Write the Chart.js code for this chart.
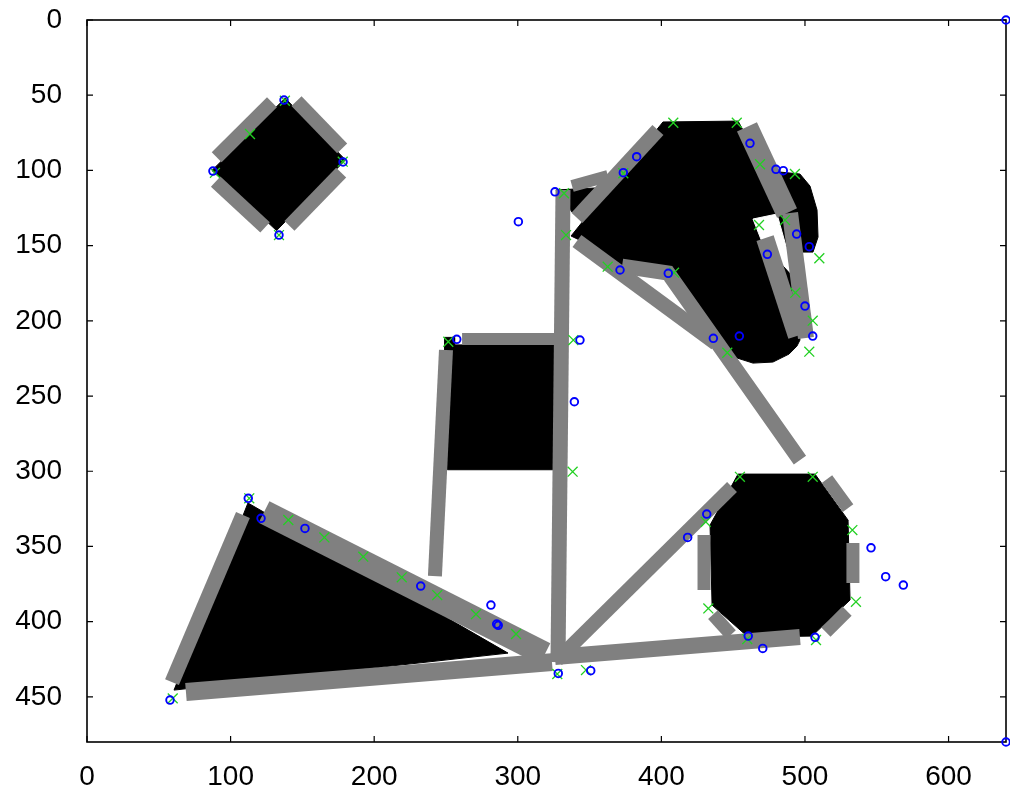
<!DOCTYPE html>
<html>
<head>
<meta charset="utf-8">
<script src="https://cdn.jsdelivr.net/npm/chart.js@4.4.0/dist/chart.umd.min.js"></script>
<style>
  html, body { margin: 0; padding: 0; background: #fff; }
</style>
</head>
<body>
<canvas id="chartShapes" width="1010" height="795"></canvas>
<script>
// axis ticks
const xTicks = [0, 100, 200, 300, 400, 500, 600];
const yTicks = [0, 50, 100, 150, 200, 250, 300, 350, 400, 450];

// black regions (x, y in image coordinates)
const diamond = [[138, 52], [180, 93], [132, 140], [87, 100]];
const square = [[249, 211], [256, 211], [256, 216], [328, 216], [328, 299], [251, 299], [251, 220], [249, 220]];
const triangle = [[112.1, 321.1], [293.2, 420.9], [60.6, 445.5]];
const notch = [[326.6, 113.0], [353.8, 111.7], [337.8, 127.7]];
const blob = [[337.1, 143.6], [401.1, 67.8], [453.4, 67.2], [489.6, 129.7], [496.5, 212.8], [494.4, 216.8],
    [488.9, 222.1], [477.7, 227.4], [463.8, 228.1], [452.7, 224.7], [445.7, 219.4], [404.6, 167.6],
    [372.6, 162.9], [350.3, 149.6]];
const crescent = [[482.6, 101.1], [496.5, 102.4], [503.5, 110.4], [508.4, 126.3], [509.1, 144.3],
    [505.6, 154.3], [495.1, 154.3], [488.2, 129.7]];
const octagon = [[453.4, 301.9], [507.0, 301.9], [530.0, 332.5], [531.4, 385.6], [504.9, 409.6],
    [460.3, 410.2], [435.3, 389.0], [433.9, 335.8]];

// white hole inside the blob
const hole = [[463.8, 132.3], [480.5, 129.0], [493.1, 171.5], [470.1, 147.6]];

// gray strokes
const dUL = [[90.3, 91.2], [128.8, 54.7]];
const dUR = [[145.9, 54.0], [177.7, 85.4]];
const dLR = [[177.0, 101.5], [141.0, 136.8]];
const dLL = [[124.0, 137.8], [89.6, 107.4]];
const sqTop = [[261.2, 212.1], [327.3, 212.1]];
const sqLeft = [[250.0, 219.4], [242.3, 369.7]];
const pole = [[331.5, 113.0], [328.0, 426.9]];
const wing = [[337.8, 110.4], [362.8, 103.7]];
const blobEdge = [[341.2, 131.6], [397.6, 73.1]];
const upperRight = [[459.6, 71.1], [487.5, 128.3]];
const rightOuter = [[489.6, 128.3], [500.7, 211.4]];
const rightInner = [[472.2, 145.0], [494.4, 210.1]];
const lowerTip = [[341.2, 146.9], [438.0, 214.8]];
const slant = [[372.6, 163.6], [404.6, 168.2], [496.5, 292.6]];
const triTop = [[123.3, 327.1], [318.9, 421.5]];
const triLeft = [[108.6, 329.1], [59.2, 440.2]];
const triBottom = [[68.9, 446.8], [323.8, 426.9]];
const spoke = [[327.3, 425.5], [449.2, 310.5]];
const base = [[325.9, 423.5], [496.5, 410.2]];
const octUR = [[515.3, 305.2], [530.0, 324.5]];
const octR = [[533.4, 347.7], [533.4, 374.3]];
const octLR = [[529.3, 393.0], [514.6, 406.9]];
const octLL = [[435.9, 395.3], [448.5, 408.6]];
const octL = [[429.7, 342.4], [429.7, 379.0]];

// markers
const blueCircles = [[640, 0], [640, 480],
    [137.2, 53.2], [87.7, 100.4], [178.3, 94.4], [133.7, 143.0],
    [300.4, 134.1], [325.9, 114.2], [382.8, 90.9], [373.5, 101.5], [371.2, 166.2], [404.8, 168.4],
    [343.3, 212.8], [436.2, 211.6], [339.4, 253.8], [257.5, 212.3],
    [461.7, 82.0], [479.8, 99.3], [484.9, 100.2], [494.2, 142.3], [503.0, 150.7], [473.8, 155.8],
    [500.0, 190.2], [505.4, 210.1], [454.3, 210.1],
    [431.6, 328.5], [418.3, 344.0], [546.0, 350.9], [556.2, 370.1], [568.5, 375.7], [460.5, 409.6],
    [470.6, 417.8], [507.0, 410.4],
    [112.3, 318.0], [121.2, 331.3], [151.8, 338.0], [232.4, 376.3], [281.3, 389.0], [285.3, 401.6],
    [286.4, 402.4], [57.8, 452.1], [328.2, 434.4], [350.8, 432.6]];
const greenCrosses = [[137.8, 53.7], [89.1, 101.6], [178.1, 94.2], [133.7, 143.0], [113.5, 75.8],
    [332.2, 115.2], [333.6, 143.0], [373.5, 101.9], [408.3, 68.3], [362.6, 164.0], [408.8, 168.0],
    [338.7, 212.8], [338.2, 300.3], [251.6, 213.9],
    [452.5, 68.3], [468.7, 95.9], [493.0, 102.4], [468.0, 136.3], [486.1, 133.0], [510.0, 158.4],
    [493.3, 181.3], [505.4, 199.9], [503.0, 220.5], [445.9, 221.2],
    [454.7, 303.7], [505.4, 303.7], [533.0, 339.1], [535.5, 386.8], [430.9, 333.6], [432.7, 391.2],
    [459.8, 411.6], [507.7, 412.2],
    [113.0, 318.0], [140.2, 332.4], [165.3, 344.0], [192.4, 356.8], [219.2, 370.5], [243.9, 382.3],
    [270.9, 395.0], [298.8, 408.2], [59.7, 451.0], [327.5, 434.8], [347.5, 432.2]];

const GRAY = '#808080';
const FONT = { family: "'Liberation Sans', Arial, sans-serif", size: 28 };

function toXY(points) {
    return points.map(p => ({ x: p[0], y: p[1] }));
}

function area(points, color, order) {
    return {
        data: toXY(points.concat([points[0]])),
        showLine: true,
        fill: 'shape',
        backgroundColor: color,
        borderColor: color,
        borderWidth: 1,
        pointRadius: 0,
        tension: 0,
        order: order
    };
}

function stroke(points, width) {
    return {
        data: toXY(points),
        showLine: true,
        fill: false,
        borderColor: GRAY,
        borderWidth: width,
        borderCapStyle: 'butt',
        borderJoinStyle: 'miter',
        pointRadius: 0,
        tension: 0,
        order: 1
    };
}

const datasets = [
    area(diamond, '#000', 3),
    area(square, '#000', 3),
    area(triangle, '#000', 3),
    area(notch, '#000', 3),
    area(blob, '#000', 3),
    area(crescent, '#000', 3),
    area(octagon, '#000', 3),
    area(hole, '#fff', 2),
    stroke(dUL, 14), stroke(dUR, 14), stroke(dLR, 14), stroke(dLL, 14),
    stroke(sqTop, 12), stroke(sqLeft, 14), stroke(pole, 15), stroke(wing, 12),
    stroke(blobEdge, 15), stroke(upperRight, 22), stroke(rightOuter, 16), stroke(rightInner, 18),
    stroke(lowerTip, 15), stroke(slant, 15),
    stroke(triTop, 24), stroke(triLeft, 15), stroke(triBottom, 18),
    stroke(spoke, 14), stroke(base, 16),
    stroke(octUR, 13), stroke(octR, 13), stroke(octLR, 13), stroke(octLL, 13), stroke(octL, 13),
    {
        data: toXY(blueCircles),
        showLine: false,
        pointStyle: 'circle',
        pointRadius: 3.8,
        pointBorderWidth: 1.9,
        pointBorderColor: '#0000ff',
        pointBackgroundColor: 'rgba(0,0,0,0)',
        clip: false,
        order: 0
    },
    {
        data: toXY(greenCrosses),
        showLine: false,
        pointStyle: 'crossRot',
        pointRadius: 7,
        pointBorderWidth: 1.3,
        pointBorderColor: '#22d022',
        clip: false,
        order: 0
    }
];

// frame with inward ticks on all four sides
const framePlugin = {
    id: 'frame',
    beforeDatasetsDraw(chart) {
        const { ctx, chartArea: a, scales } = chart;
        ctx.save();
        ctx.strokeStyle = '#000';
        ctx.lineWidth = 1.6;
        ctx.strokeRect(a.left, a.top, a.right - a.left, a.bottom - a.top);
        ctx.lineWidth = 1.2;
        ctx.beginPath();
        xTicks.forEach(v => {
            const px = scales.x.getPixelForValue(v);
            ctx.moveTo(px, a.bottom); ctx.lineTo(px, a.bottom - 6);
            ctx.moveTo(px, a.top); ctx.lineTo(px, a.top + 6);
        });
        yTicks.forEach(v => {
            const py = scales.y.getPixelForValue(v);
            ctx.moveTo(a.left, py); ctx.lineTo(a.left + 6, py);
            ctx.moveTo(a.right, py); ctx.lineTo(a.right - 6, py);
        });
        ctx.stroke();
        ctx.restore();
    }
};

new Chart(document.getElementById('chartShapes'), {
    type: 'scatter',
    data: { datasets: datasets },
    options: {
        responsive: false,
        animation: false,
        events: [],
        layout: { autoPadding: false, padding: { top: 20, right: 4, left: 0, bottom: 0 } },
        plugins: { legend: { display: false }, tooltip: { enabled: false } },
        scales: {
            x: {
                type: 'linear',
                min: 0,
                max: 640,
                afterBuildTicks: s => { s.ticks = xTicks.map(v => ({ value: v })); },
                afterFit: s => { s.height = 53; s.paddingLeft = 0; s.paddingRight = 0; },
                grid: { display: false, drawTicks: false },
                border: { display: false },
                ticks: { font: FONT, color: '#000', padding: 18, maxRotation: 0 }
            },
            y: {
                type: 'linear',
                min: 0,
                max: 480,
                reverse: true,
                afterBuildTicks: s => { s.ticks = yTicks.map(v => ({ value: v })); },
                afterFit: s => { s.width = 87; s.paddingTop = 0; s.paddingBottom = 0; },
                grid: { display: false, drawTicks: false },
                border: { display: false },
                ticks: { font: FONT, color: '#000', padding: 25 }
            }
        }
    },
    plugins: [framePlugin]
});
</script>
</body>
</html>
